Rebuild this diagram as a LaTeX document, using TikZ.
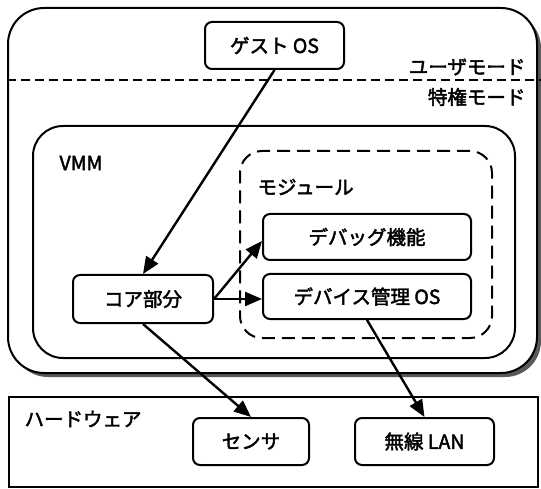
\documentclass[tikz,border=0pt]{standalone}
\usepackage{fontspec}
\setmainfont{Noto Sans CJK JP}[AutoFakeBold=2.2]
\usetikzlibrary{arrows.meta}
\begin{document}
\begin{tikzpicture}[x=1pt, y=-1pt, every node/.style={font=\fontsize{19.5}{21}\selectfont\bfseries}]
\useasboundingbox (0,0) rectangle (541,489);

\tikzset{frame/.style={draw, line width=2pt, inner sep=0pt}}
\tikzset{box/.style={draw, rounded corners=7pt, line width=2pt, inner sep=0pt}}
\node (shadow) at (276.5,194.5) [fill=black!65, rounded corners=36pt, minimum width=529, minimum height=365] {};
\node[frame, fill=white, rounded corners=36pt, minimum width=529, minimum height=365] (outer) at (272.5,190.5) {};
\draw[dashed, line width=2pt, dash pattern=on 9pt off 5pt] (outer.west |- 0,80) -- (541,80);
\node[frame, rounded corners=30pt, minimum width=482, minimum height=232] (vmm) at (274,242) {};
\node[frame, dashed, dash pattern=on 13pt off 7pt, rounded corners=22pt, minimum width=252, minimum height=187] (module) at (366,244.5) {};
\node[frame, minimum width=529, minimum height=90] (hw) at (273.5,442) {};

\node[anchor=east] (user) at (529,67) {ユーザモード};
\node[anchor=east] (priv) at (529,97) {特権モード};
\node[anchor=west] (vmmlabel) at (56,163) {VMM};
\node[anchor=west] (modlabel) at (254,187) {モジュール};
\node[anchor=west] (hwlabel) at (21,419) {ハードウェア};

\node[box, minimum width=139, minimum height=47] (guest) at (274.5,45.5) {ゲスト OS};
\node[box, minimum width=140, minimum height=48] (core) at (143,299) {コア部分};
\node[box, minimum width=208, minimum height=46] (debug) at (367,237) {デバッグ機能};
\node[box, minimum width=208, minimum height=45] (devos) at (367,296.5) {デバイス管理 OS};
\node[box, minimum width=116, minimum height=47] (sensor) at (251,441.5) {センサ};
\node[box, minimum width=139, minimum height=47] (lan) at (424.5,441.5) {無線 LAN};

\tikzset{every node/.style={}};
\tikzset{link/.style={-{Triangle[length=17pt,width=14pt]}, line width=2.4pt}};
\path (guest.south) edge [link] node {} (core.north);
\path (core.east) edge [link] node {} ([yshift=-4pt]debug.west);
\path (core.east) edge [link] node {} (devos.west |- core.east);
\path (core.south) edge [link] node {} (sensor.north);
\path (devos.south) edge [link] node {} (lan.north);
\end{tikzpicture}
\end{document}
